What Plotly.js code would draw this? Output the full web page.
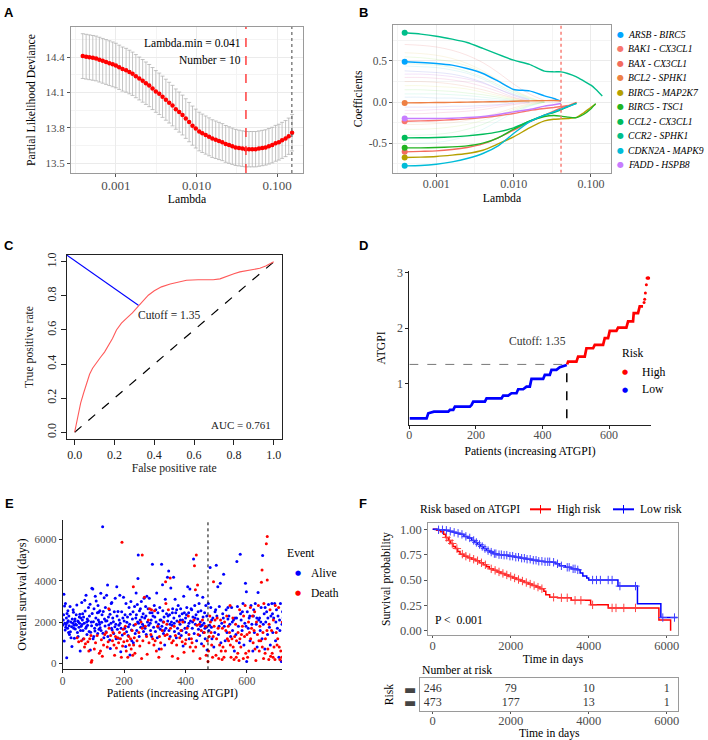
<!DOCTYPE html>
<html><head><meta charset="utf-8">
<script src="https://cdn.plot.ly/plotly-3.0.1.min.js"></script>
<style>body{margin:0;padding:0;background:#fff}#chart{width:708px;height:740px}</style>
</head><body><div id="chart"></div>
<script>
const W=708,H=740;
const SERIF='Liberation Serif, Times New Roman, serif';
// ---------- Panel A : cross-validation ----------
const lambdaA=[0.000389,0.000428,0.000470,0.000518,0.000569,0.000625,0.000687,0.000756,0.000831,0.000914,0.00100,0.00110,0.00121,0.00134,0.00147,0.00161,0.00177,0.00195,0.00215,0.00236,0.00259,0.00285,0.00313,0.00345,0.00379,0.00417,0.00458,0.00504,0.00554,0.00610,0.00670,0.00736,0.00810,0.00891,0.00979,0.0108,0.0118,0.0130,0.0143,0.0157,0.0173,0.0190,0.0209,0.0230,0.0253,0.0278,0.0305,0.0336,0.0370,0.0406,0.0447,0.0491,0.0540,0.0594,0.0653,0.0718,0.0789,0.0868,0.0955,0.105,0.115,0.127,0.139,0.153];
const devianceA=[14.41,14.405,14.40,14.395,14.39,14.38,14.37,14.36,14.35,14.34,14.33,14.315,14.30,14.29,14.275,14.26,14.24,14.22,14.20,14.18,14.16,14.135,14.11,14.09,14.065,14.04,14.015,13.99,13.96,13.935,13.91,13.88,13.85,13.82,13.795,13.77,13.755,13.74,13.725,13.71,13.70,13.69,13.68,13.665,13.655,13.645,13.635,13.63,13.625,13.62,13.62,13.62,13.62,13.625,13.63,13.635,13.645,13.655,13.67,13.68,13.695,13.71,13.73,13.76];
const devianceSE=[0.19,0.19,0.19,0.19,0.19,0.19,0.19,0.19,0.19,0.19,0.189,0.188,0.187,0.186,0.185,0.184,0.183,0.182,0.181,0.18,0.179,0.178,0.177,0.176,0.175,0.174,0.173,0.172,0.171,0.17,0.169,0.168,0.167,0.166,0.165,0.164,0.163,0.162,0.161,0.16,0.159,0.158,0.157,0.156,0.155,0.154,0.153,0.152,0.151,0.15,0.15,0.15,0.15,0.15,0.15,0.15,0.151,0.151,0.152,0.152,0.153,0.153,0.154,0.155];
const lambdaMin=0.041, lambda1se=0.152, nSelected=10;
// ---------- Panel B : coefficient paths ----------
const lambdaB=[0.00039,0.00063,0.001,0.0016,0.0025,0.004,0.0063,0.01,0.016,0.025,0.033,0.041,0.05,0.065,0.08,0.1,0.115,0.14];
const pairNames=['ARSB - BIRC5','BAK1 - CX3CL1','BAX - CX3CL1','BCL2 - SPHK1','BIRC5 - MAP2K7','BIRC5 - TSC1','CCL2 - CX3CL1','CCR2 - SPHK1','CDKN2A - MAPK9','FADD - HSPB8'];
const pairColors=['#00A5FF','#F8766D','#F36B5E','#EE8044','#B5A000','#22B422','#00BC5A','#00BE8A','#00BCD8','#C77CFF'];
const coefARSB=[0.490,0.482,0.470,0.449,0.409,0.348,0.255,0.154,0.137,0.076,0.044,0.012];
const coefBAK1=[-0.232,-0.228,-0.223,-0.214,-0.203,-0.187,-0.166,-0.138,-0.101,-0.077,-0.065,-0.053,-0.040];
const coefBAX=[-0.604,-0.598,-0.592,-0.576,-0.551,-0.507,-0.434,-0.341,-0.240,-0.158,-0.110,-0.069,-0.045,-0.004];
const coefBCL2=[-0.009,-0.007,-0.005,-0.003,0.0,0.003,0.006,0.011,0.015,0.018,0.02,0.015];
const coefMAP2K7=[-0.672,-0.668,-0.660,-0.644,-0.624,-0.584,-0.507,-0.422,-0.313,-0.228,-0.207,-0.203,-0.199,-0.186,-0.132,-0.062,-0.025];
const coefTSC1=[-0.555,-0.555,-0.551,-0.543,-0.531,-0.498,-0.433,-0.328,-0.232,-0.174,-0.162,-0.170,-0.182,-0.188,-0.150,-0.080,-0.018];
const coefCCL2=[-0.434,-0.433,-0.430,-0.422,-0.410,-0.390,-0.361,-0.313,-0.232,-0.158,-0.126,-0.093,-0.057,-0.012];
const coefCCR2=[0.842,0.826,0.801,0.765,0.724,0.652,0.579,0.510,0.458,0.376,0.368,0.368,0.348,0.307,0.259,0.206,0.157,0.076];
const coefCDKN2A=[-0.774,-0.770,-0.754,-0.725,-0.685,-0.624,-0.531,-0.381,-0.240,-0.158,-0.118,-0.085,-0.053,-0.017];
const coefFADD=[-0.199,-0.199,-0.199,-0.195,-0.187,-0.175,-0.150,-0.118,-0.089,-0.049,-0.032,-0.017];
const otherPaths=[
[0.70,0.69,0.67,0.63,0.57,0.48,0.36,0.22,0.10,0.02],
[0.60,0.59,0.57,0.53,0.47,0.38,0.27,0.15,0.06,0.0],
[0.55,0.54,0.52,0.49,0.44,0.36,0.26,0.14,0.05,0.0],
[0.47,0.46,0.45,0.42,0.37,0.30,0.21,0.12,0.04,0.0],
[0.44,0.43,0.42,0.39,0.35,0.28,0.19,0.10,0.03],
[0.38,0.37,0.36,0.34,0.30,0.24,0.16,0.08,0.02],
[0.34,0.34,0.33,0.31,0.28,0.23,0.16,0.09,0.03],
[0.30,0.30,0.29,0.27,0.24,0.19,0.13,0.06,0.01],
[0.25,0.25,0.24,0.22,0.19,0.15,0.10,0.05,0.01],
[0.20,0.20,0.19,0.18,0.16,0.12,0.08,0.04,0.01],
[0.15,0.15,0.14,0.13,0.11,0.09,0.06,0.03,0.0],
[0.10,0.10,0.10,0.09,0.08,0.06,0.04,0.02,0.0],
[0.06,0.06,0.05,0.05,0.04,0.03,0.02,0.01],
[-0.06,-0.06,-0.06,-0.05,-0.05,-0.04,-0.03,-0.01],
[-0.10,-0.10,-0.09,-0.09,-0.08,-0.06,-0.04,-0.02,0.0],
[-0.14,-0.14,-0.13,-0.12,-0.11,-0.09,-0.06,-0.03,-0.01],
[-0.27,-0.27,-0.26,-0.25,-0.22,-0.18,-0.13,-0.07,-0.02,0.0],
[-0.33,-0.33,-0.32,-0.30,-0.27,-0.22,-0.16,-0.09,-0.03,0.0],
[-0.40,-0.40,-0.39,-0.37,-0.33,-0.27,-0.19,-0.11,-0.04,0.0],
[-0.50,-0.50,-0.49,-0.46,-0.41,-0.33,-0.23,-0.13,-0.05,0.0]];
// ---------- Panel C : ROC ----------
const rocFPR=[0,0.008,0.018,0.03,0.045,0.06,0.075,0.09,0.11,0.13,0.15,0.17,0.19,0.21,0.235,0.26,0.29,0.32,0.345,0.37,0.40,0.436,0.48,0.52,0.562,0.62,0.696,0.73,0.763,0.80,0.83,0.88,0.93,0.96,1.0];
const rocTPR=[0,0.05,0.11,0.17,0.23,0.29,0.34,0.375,0.41,0.44,0.47,0.51,0.55,0.60,0.64,0.668,0.70,0.74,0.77,0.804,0.83,0.853,0.87,0.88,0.892,0.895,0.895,0.90,0.912,0.93,0.941,0.953,0.962,0.975,1.0];
const cutoffFPR=0.32, cutoffTPR=0.745, cutoffValue=1.35, aucValue=0.761;
// ---------- Panel D : risk score ----------
const lowIdx=[1,52,57,74,117,122,132,137,182,187,192,227,232,277,282,297,307,322,327,342,352,362,367,402,407,422,427,442,452,473];
const lowScore=[0.384,0.384,0.474,0.504,0.504,0.534,0.534,0.594,0.594,0.624,0.684,0.684,0.743,0.743,0.791,0.791,0.833,0.833,0.905,0.905,0.952,0.952,1.09,1.09,1.162,1.162,1.252,1.252,1.30,1.341];
const highIdx=[474,477,502,507,527,532,552,557,582,587,597,602,622,627,652,657,672,674,687,692,702];
const highScore=[1.35,1.401,1.401,1.491,1.491,1.64,1.64,1.70,1.70,1.82,1.82,1.95,1.95,2.01,2.01,2.12,2.12,2.27,2.27,2.39,2.39];
const topIdx=[705,707,709,712,714,716,718,719];
const topScore=[2.46,2.52,2.63,2.78,2.9,2.9,2.9,2.9];
const nLow=473;
// ---------- Panel E : survival status ----------
const alivePoints=[[1,1860],[2,2100],[3,2350],[4,3340],[5,1090],[6,2780],[7,1950],[8,1620],[9,2900],[10,1750],[11,1890],[12,2200],[13,280],[14,2420],[15,1980],[16,1700],[17,2550],[18,2060],[19,1500],
[20,2300],[21,1820],[22,1400],[24,2750],[25,1540],[26,2000],[27,1250],[29,1780],[30,820],[31,2150],[33,1950],[34,2600],[35,2470],[36,1700],[37,1850],[38,1220],[39,2040],
[40,2150],[41,1670],[42,1900],[44,2350],[45,1860],[46,2830],[48,1500],[49,2050],[50,1300],[51,2020],[53,1750],[54,2250],[55,1950],[56,2380],[57,610],[58,1600],[59,2200],
[60,1800],[62,2950],[63,1890],[64,2100],[65,2400],[66,1600],[67,1180],[68,2250],[70,1950],[72,3050],[73,2540],[75,1700],[76,3300],[77,1780],[78,2000],[79,1400],
[80,2150],[81,1850],[83,2060],[84,2700],[86,1550],[87,2300],[89,2860],[90,650],[91,1510],[93,2000],[94,1830],[95,3630],[96,2420],[98,3600],[99,1200],
[100,2020],[101,1300],[102,2650],[104,1700],[105,1570],[106,3250],[108,2200],[109,3020],[110,1900],[111,1860],[113,2450],[114,1450],[115,2800],[116,2100],[117,2470],[118,1650],[119,2000],
[120,1900],[121,2550],[122,1730],[124,3390],[125,1600],[127,1990],[128,2350],[130,6600],[131,1460],[132,2510],[134,1250],[135,3180],[136,2150],[138,1810],[139,2700],
[140,2050],[141,1540],[143,3300],[144,2060],[146,3790],[147,1300],[149,2250],[150,1860],[152,2600],[153,1140],[154,2380],[155,730],[157,1950],[158,2900],[159,1700],
[160,2950],[161,1620],[163,2200],[165,2020],[166,1450],[168,2500],[170,1780],[171,3150],[173,1900],[174,1200],[176,3710],[177,2300],[178,1650],
[180,2510],[181,1220],[183,1850],[184,2100],[186,3300],[187,1940],[189,570],[190,1700],[192,2500],[194,1380],[196,2200],[198,3200],
[200,2050],[202,1700],[203,2350],[205,820],[206,2900],[208,1540],[209,1990],[211,2250],[213,1350],[214,1780],[216,2700],[218,1900],[219,410],
[220,2380],[222,3000],[224,1620],[225,1100],[227,2150],[229,2500],[230,1000],[232,1850],[234,2750],[236,1450],[238,2200],[239,3400],
[240,2350],[241,1600],[243,2850],[244,2000],[245,4110],[246,5240],[247,1950],[249,1300],[250,2550],[252,2100],[253,2650],[254,1750],[256,3000],[258,2250],
[260,1900],[262,2400],[263,1550],[264,1800],[265,3150],[267,2200],[268,1700],[270,2750],[271,2300],[272,1400],[274,3250],[276,2000],[278,2650],
[280,1850],[282,3150],[284,2450],[285,1950],[286,1600],[288,2100],[290,1300],[291,2450],[292,4790],[294,2300],[296,1750],[298,2800],
[300,2250],[302,1550],[303,2600],[304,2000],[306,3400],[308,1250],[310,2450],[311,1750],[312,1900],[314,700],[316,2700],[317,2100],[318,1650],
[320,2100],[322,4790],[323,1800],[325,3800],[326,2550],[327,2000],[328,1450],[330,2250],[331,1600],[332,900],[334,3100],[336,1700],[338,2400],
[341,4160],[342,2050],[343,2300],[345,4470],[346,1600],[348,2350],[349,1900],[350,1300],[352,3650],[354,2000],[356,1850],[357,2450],[358,2650],
[361,4160],[362,2200],[363,1950],[364,1550],[366,3100],[368,2450],[370,1250],[371,2600],[372,2050],[374,1700],[376,2800],[378,1450],
[380,2300],[382,1900],[383,2100],[384,2650],[386,1350],[388,1600],[389,2400],[390,2100],[392,850],[394,3250],[396,2450],[397,2000],[398,1700],
[400,2200],[402,1500],[403,2350],[404,2700],[407,3710],[408,1800],[410,2450],[411,1950],[412,1200],[414,3600],[416,2050],[418,2650],
[420,2600],[422,1700],[423,2000],[424,2250],[426,5050],[428,1450],[430,2800],[431,2200],[432,1900],[434,2350],[436,1100],[438,3300],
[440,2150],[441,2500],[442,1650],[444,2900],[446,1350],[448,2000],[449,1800],[450,2550],[452,950],[454,1850],[456,3200],[457,2250],[458,1500],
[460,1950],[462,2450],[463,1700],[464,1200],[466,2800],[468,1750],[469,2300],[470,650],[474,2900],[476,1600],[478,1850],
[480,4630],[482,2700],[484,1750],[485,2100],[486,1200],[489,2200],[492,800],[495,1500],[496,2500],[498,2600],
[500,4740],[502,2300],[505,3710],[507,1400],[509,1800],[510,2750],[513,3870],[515,1000],[518,1950],
[521,2400],[523,2200],[524,4310],[526,1800],[529,1100],[532,2600],[535,1500],[538,2150],[538,2700],
[541,2300],[544,1900],[547,1300],[550,2700],[552,2000],[553,1600],[556,2100],[559,600],
[561,2200],[564,1400],[566,2200],[567,4920],[569,2750],[572,1800],[575,1000],[578,5270],[579,2400],
[581,2100],[584,1600],[585,2500],[587,2900],[590,900],[593,1950],[595,3870],[597,1800],[598,3460],[599,100],
[601,2500],[604,1700],[607,2200],[609,2300],[610,1100],[613,2800],[616,1900],[619,600],
[621,2300],[622,2600],[624,1500],[627,2900],[630,1900],[632,2200],[633,800],[636,3430],[638,2100],
[641,2200],[643,1600],[645,2000],[646,2700],[649,1200],[651,5210],[653,1900],[656,2400],[658,700],[659,2700],
[661,2000],[664,2500],[667,1400],[668,2200],[670,2850],[673,1750],[676,900],[678,2300],
[681,2900],[683,2400],[684,1500],[687,2200],[690,2900],[693,1100],[694,2000],[696,2600],[699,1700],
[701,2300],[704,300],[706,2100],[707,1600],[709,2900],[712,100],[714,1900],[716,2500],[718,2200]];
const deathPoints=[[47,1250],[52,1050],[61,1100],[69,1200],[71,800],[74,950],[82,1050],[85,600],[88,1200],[92,1350],[93,60],[95,150],
[103,700],[107,1000],[112,1350],[119,500],[123,600],[126,1150],[129,350],[133,900],[137,1400],
[142,1500],[145,800],[148,1050],[150,2650],[151,1700],[156,1350],[162,1100],[164,1500],[167,900],[169,400],[172,1300],[175,750],[179,1250],
[182,1000],[185,1500],[188,1200],[191,300],[193,5850],[195,850],[197,1650],[199,1050],
[201,1450],[204,1800],[207,600],[210,1100],[212,300],[215,1300],[217,900],
[221,1200],[223,700],[226,1600],[228,400],[230,3710],[231,900],[233,1250],[235,500],[237,1900],
[242,1100],[248,1500],[251,850],[255,2000],[257,250],[259,5240],[259,1700],
[261,1100],[266,3200],[269,1800],[273,1300],[275,450],[279,2100],
[281,1000],[283,2650],[287,1400],[289,2600],[293,1200],[297,900],[299,2550],
[301,1100],[305,600],[309,1800],[313,300],[315,1300],[319,1000],
[321,700],[324,1600],[329,2000],[333,1350],[335,3950],[336,2900],[339,1900],
[340,1400],[344,2600],[347,1200],[350,4130],[351,1700],[355,1000],[357,350],
[360,1100],[363,1800],[367,1350],[371,900],[375,250],[379,2000],
[381,1250],[385,1600],[389,1050],[391,2000],[395,550],[399,950],
[401,1150],[405,1700],[409,2300],[411,1400],[415,800],[419,1200],
[421,1000],[425,600],[427,2100],[429,4720],[432,3560],[433,800],[435,5240],[437,1850],[439,3790],
[441,1400],[445,1900],[447,250],[451,1600],[455,2100],[459,850],
[461,1500],[465,1800],[467,400],[471,1100],[473,100],
[475,600],[477,1300],[479,2300],
[481,2000],[483,1500],[485,900],[488,300],[490,1300],[491,3950],[493,1800],[496,2100],[499,400],
[501,1200],[503,2200],[506,1700],[508,250],[511,900],[514,2100],[516,600],[519,200],
[520,1700],[522,800],[525,300],[527,2000],[530,600],[531,1600],[534,2300],[536,1200],[539,1800],
[540,1100],[543,1500],[545,2800],[546,900],[548,300],[551,1200],[554,2200],[555,800],[558,200],
[560,1300],[563,1900],[565,300],[566,1100],[570,500],[571,1500],[574,150],[576,2600],[577,1200],
[580,800],[582,1400],[585,1800],[588,250],[589,2300],[592,1300],[594,2800],[596,500],
[600,1400],[602,300],[605,2000],[606,600],[608,1500],[611,2700],[612,1200],[615,1700],[618,2300],
[620,1000],[623,1600],[625,2500],[626,700],[629,150],[631,2000],[634,1400],[637,2800],[639,1100],
[640,600],[642,1800],[645,1100],[647,3920],[649,4520],[650,800],[652,1500],[654,250],[655,2900],[659,500],
[660,1200],[663,5780],[665,1600],[666,6130],[666,4030],[668,700],[671,200],[672,1900],[675,2600],[677,350],
[680,1600],[682,500],[685,300],[686,2100],[688,800],[691,200],[692,2800],[695,1500],[698,900],
[700,1200],[703,2700],[705,800],[707,200],[710,600],[713,300],[715,2000],[717,150],[719,600]];
// ---------- Panel F : Kaplan-Meier ----------
const kmLowT=[0,150,300,420,520,600,700,800,900,1000,1080,1150,1230,1300,1380,1460,1550,1650,1800,1950,2100,2250,2400,2550,2700,2850,3050,3150,3250,3400,3550,3700,3780,3850,3950,4000,4750,5250,5850,6282];
const kmLowS=[1,0.995,0.99,0.98,0.97,0.96,0.95,0.93,0.915,0.89,0.87,0.85,0.83,0.81,0.79,0.775,0.76,0.75,0.745,0.735,0.725,0.715,0.705,0.695,0.685,0.68,0.675,0.66,0.64,0.625,0.61,0.60,0.57,0.54,0.52,0.50,0.44,0.265,0.13,0.13];
const kmHighT=[0,100,200,280,330,400,460,520,580,640,700,800,900,1000,1100,1200,1300,1380,1450,1550,1650,1750,1850,1950,2050,2150,2250,2350,2450,2550,2650,2750,2850,2900,3000,3200,3550,4050,4500,5800,6100];
const kmHighS=[1,0.99,0.975,0.95,0.92,0.89,0.86,0.83,0.81,0.78,0.755,0.735,0.72,0.705,0.69,0.67,0.65,0.63,0.61,0.595,0.58,0.565,0.55,0.535,0.52,0.505,0.49,0.475,0.46,0.445,0.43,0.415,0.39,0.355,0.33,0.325,0.30,0.255,0.225,0.105,0.0];
const censorLow=[150,250,350,450,550,650,750,850,950,1050,1120,1200,1270,1340,1420,1500,1580,1620,1700,1760,1830,1900,1980,2050,2130,2200,2280,2350,2420,2500,2580,2650,2720,2800,2880,2950,3000,3100,3200,3300,3450,3500,3600,3650,3720,4100,4200,4300,4500,4600,4800,5200,5900,6200];
const censorHigh=[350,430,500,620,760,850,950,1050,1150,1250,1350,1500,1600,1700,1800,1900,2000,2100,2200,2300,2400,2500,2600,2700,2800,3100,3300,3450,3650,3800,4100,4600,4700,4900,5200];
const riskTimes=[0,2000,4000,6000];
const atRiskHigh=[246,79,10,1];
const atRiskLow=[473,177,13,1];

// ---------- helpers ----------
function dx(a,b){return [a/W,b/W];}
function dy(a,b){return [1-b/H,1-a/H];}
function tf(s,c){return {family:SERIF,size:s,color:c||'#4D4D4D'};}
const titleF={family:SERIF,size:11.7,color:'#000'};
function axis(o){return Object.assign({showgrid:false,zeroline:false,showline:true,linewidth:1,ticks:'outside',ticklen:3,tickwidth:1,tickfont:tf(11.5),fixedrange:true},o);}
function stepAt(T,S,t){let s=S[0];for(let i=0;i<T.length;i++){if(T[i]<=t)s=S[i];}return s;}

const data=[];
// A
const yA=[13.418,14.657];
data.push({x:lambdaA,y:devianceA,xaxis:'x',yaxis:'y',mode:'markers',type:'scatter',
 marker:{color:'#FF0000',size:4.5},
 error_y:{type:'data',array:devianceSE,color:'#ABABAB',thickness:0.7,width:2}});
data.push({x:[lambdaMin,lambdaMin],y:yA,xaxis:'x',yaxis:'y',mode:'lines',line:{color:'#FF3030',width:1.4,dash:'dash'}});
data.push({x:[lambda1se,lambda1se],y:yA,xaxis:'x',yaxis:'y',mode:'lines',line:{color:'#555',width:1.1,dash:'dot'}});
// B
otherPaths.forEach((p,i)=>{
 const h=(i*47)%360;
 data.push({x:lambdaB.slice(0,p.length),y:p,xaxis:'x2',yaxis:'y2',mode:'lines',opacity:0.2,
  line:{color:`hsl(${h},70%,65%)`,width:0.9,shape:'spline'}});
});
const coefs=[coefARSB,coefBAK1,coefBAX,coefBCL2,coefMAP2K7,coefTSC1,coefCCL2,coefCCR2,coefCDKN2A,coefFADD];
coefs.forEach((c,i)=>{
 data.push({x:lambdaB.slice(0,c.length),y:c,xaxis:'x2',yaxis:'y2',mode:'lines',line:{color:pairColors[i],width:1.4,shape:'spline',smoothing:0.6}});
 data.push({x:[lambdaB[0]],y:[c[0]],xaxis:'x2',yaxis:'y2',mode:'markers',marker:{color:pairColors[i],size:6}});
});
const yB=[-0.857,0.937];
data.push({x:[lambdaMin,lambdaMin],y:yB,xaxis:'x2',yaxis:'y2',mode:'lines',line:{color:'#F8766D',width:1.4,dash:'dot'}});
// C
const xC=[-0.04,1.04], yC=[-0.04,1.04];
data.push({x:[0,1],y:[0,1],xaxis:'x3',yaxis:'y3',mode:'lines',line:{color:'#000',width:1.2,dash:'dash'}});
data.push({x:rocFPR,y:rocTPR,xaxis:'x3',yaxis:'y3',mode:'lines',line:{color:'#FF5A5A',width:1.1}});
data.push({x:[xC[0],cutoffFPR],y:[yC[1],cutoffTPR],xaxis:'x3',yaxis:'y3',mode:'lines',line:{color:'#0000FF',width:1.1}});
// D
data.push({x:[0,nLow],y:[cutoffValue,cutoffValue],xaxis:'x4',yaxis:'y4',mode:'lines',line:{color:'#777',width:1,dash:'dash'}});
data.push({x:[nLow,nLow],y:[lowScore[0],cutoffValue],xaxis:'x4',yaxis:'y4',mode:'lines',line:{color:'#000',width:1.5,dash:'dash'}});
data.push({x:lowIdx,y:lowScore,xaxis:'x4',yaxis:'y4',mode:'lines',line:{color:'#0000FF',width:2.7}});
data.push({x:highIdx,y:highScore,xaxis:'x4',yaxis:'y4',mode:'lines',line:{color:'#FF0000',width:2.7}});
data.push({x:topIdx,y:topScore,xaxis:'x4',yaxis:'y4',mode:'markers',marker:{color:'#FF0000',size:3}});
// E
const yE=[-277,6927];
data.push({x:alivePoints.map(p=>p[0]),y:alivePoints.map(p=>p[1]),xaxis:'x5',yaxis:'y5',mode:'markers',marker:{color:'#0000FF',size:3}});
data.push({x:deathPoints.map(p=>p[0]),y:deathPoints.map(p=>p[1]),xaxis:'x5',yaxis:'y5',mode:'markers',marker:{color:'#FF0000',size:3}});
data.push({x:[nLow,nLow],y:yE,xaxis:'x5',yaxis:'y5',mode:'lines',line:{color:'#000',width:1,dash:'3px,3px'}});
// F
data.push({x:kmHighT,y:kmHighS,xaxis:'x6',yaxis:'y6',mode:'lines',line:{color:'#FF0000',width:1.5,shape:'hv'}});
data.push({x:kmLowT,y:kmLowS,xaxis:'x6',yaxis:'y6',mode:'lines',line:{color:'#0000FF',width:1.5,shape:'hv'}});
data.push({x:censorHigh,y:censorHigh.map(t=>stepAt(kmHighT,kmHighS,t)),xaxis:'x6',yaxis:'y6',mode:'markers',
 marker:{symbol:'cross-thin',size:6,line:{width:1,color:'#FF4040'}}});
data.push({x:censorLow,y:censorLow.map(t=>stepAt(kmLowT,kmLowS,t)),xaxis:'x6',yaxis:'y6',mode:'markers',
 marker:{symbol:'cross-thin',size:6,line:{width:1,color:'#4040FF'}}});
data.push({x:riskTimes.concat(riskTimes),y:[2,2,2,2,1,1,1,1],text:atRiskHigh.concat(atRiskLow).map(String),
 xaxis:'x7',yaxis:'y7',mode:'text',textfont:{family:SERIF,size:12,color:'#333'}});

const grid='#EBEBEB', minorGrid='#F4F4F4', border='#9A9A9A';
const layout={width:W,height:H,margin:{l:0,r:0,t:0,b:0},paper_bgcolor:'#fff',plot_bgcolor:'#fff',showlegend:false,
 font:{family:SERIF,size:11,color:'#000'},
 xaxis:axis({domain:dx(71,303),anchor:'y',type:'log',range:[-3.556,-0.68],tickvals:[0.001,0.01,0.1],ticktext:['0.001','0.010','0.100'],
  tickfont:tf(13),ticklabelstandoff:-3,mirror:true,linecolor:border,tickcolor:'#555',showgrid:true,gridcolor:grid,
  minor:{tickvals:[0.000316,0.00316,0.0316],showgrid:true,gridcolor:minorGrid,ticks:''},
  title:{text:'Lambda',font:titleF,standoff:3}}),
 yaxis:axis({domain:dy(27,173),anchor:'x',range:yA,tickvals:[13.5,13.8,14.1,14.4],ticktext:['13.5','13.8','14.1','14.4'],
  tickfont:tf(11),mirror:true,linecolor:border,tickcolor:'#555',showgrid:true,gridcolor:grid,
  minor:{tickvals:[13.65,13.95,14.25,14.55],showgrid:true,gridcolor:minorGrid,ticks:''},
  title:{text:'Partial Likelihood Deviance',font:titleF,standoff:7}}),
 xaxis2:axis({domain:dx(393.3,610.7),anchor:'y2',type:'log',range:[-3.556,-0.745],tickvals:[0.001,0.01,0.1],ticktext:['0.001','0.010','0.100'],
  tickfont:tf(12),ticklabelstandoff:-3,mirror:true,linecolor:border,tickcolor:'#555',showgrid:true,gridcolor:grid,
  minor:{tickvals:[0.000316,0.00316,0.0316],showgrid:true,gridcolor:minorGrid,ticks:''},
  title:{text:'Lambda',font:titleF,standoff:3}}),
 yaxis2:axis({domain:dy(25,172.7),anchor:'x2',range:yB,tickvals:[-0.5,0,0.5],ticktext:['-0.5','0.0','0.5'],
  tickfont:tf(11.5),mirror:true,linecolor:border,tickcolor:'#555',showgrid:true,gridcolor:grid,
  minor:{tickvals:[-0.75,-0.25,0.25,0.75],showgrid:true,gridcolor:minorGrid,ticks:''},
  title:{text:'Coefficients',font:titleF,standoff:3}}),
 xaxis3:axis({domain:dx(66.7,281.7),anchor:'y3',range:xC,tickvals:[0,0.2,0.4,0.6,0.8,1],ticktext:['0.0','0.2','0.4','0.6','0.8','1.0'],
  mirror:true,linecolor:'#222',tickcolor:'#222',ticklen:5,tickfont:tf(12,'#222'),
  title:{text:'False positive rate',font:{family:SERIF,size:11.7,color:'#222'},standoff:2}}),
 yaxis3:axis({domain:dy(255,439),anchor:'x3',range:yC,tickvals:[0,0.2,0.4,0.6,0.8,1],ticktext:['0.0','0.2','0.4','0.6','0.8','1.0'],tickangle:-90,
  mirror:true,linecolor:'#222',tickcolor:'#222',ticklen:5,tickfont:tf(12,'#222'),
  title:{text:'True positive rate',font:{family:SERIF,size:11.7,color:'#222'},standoff:8}}),
 xaxis4:axis({domain:dx(409.3,650.7),anchor:'y4',range:[0,725],tickvals:[0,200,400,600],linecolor:'#222',tickcolor:'#222',tickfont:tf(12),
  ticklabelstandoff:-4,title:{text:'Patients (increasing ATGPI)',font:titleF,standoff:5}}),
 yaxis4:axis({domain:dy(270.7,425),anchor:'x4',range:[0.264,3.03],tickvals:[1,2,3],linecolor:'#222',tickcolor:'#222',tickfont:tf(12),
  title:{text:'ATGPI',font:titleF,standoff:8}}),
 xaxis5:axis({domain:dx(62.7,282),anchor:'y5',range:[0,714],tickvals:[0,200,400,600],linecolor:'#222',tickcolor:'#222',tickfont:tf(11.5),
  ticklabelstandoff:-2,title:{text:'Patients (increasing ATGPI)',font:titleF,standoff:2}}),
 yaxis5:axis({domain:dy(520,669.3),anchor:'x5',range:yE,tickvals:[0,2000,4000,6000],linecolor:'#222',tickcolor:'#222',tickfont:tf(11),
  title:{text:'Overall survival (days)',font:{family:SERIF,size:12.2,color:'#000'},standoff:5}}),
 xaxis6:axis({domain:dx(428.3,677.7),anchor:'y6',range:[-113,6282],tickvals:[0,2000,4000,6000],mirror:true,linecolor:border,tickcolor:'#555',
  ticklen:2,ticklabelstandoff:-3,tickfont:tf(12.5),title:{text:'Time in days',font:titleF,standoff:0}}),
 yaxis6:axis({domain:dy(523.3,635),anchor:'x6',range:[-0.042,1.059],tickvals:[0,0.25,0.5,0.75,1],ticktext:['0.00','0.25','0.50','0.75','1.00'],
  tickfont:tf(12.5),mirror:true,linecolor:border,tickcolor:'#555',title:{text:'Survival probability',font:titleF,standoff:6}}),
 xaxis7:axis({domain:dx(420,677.7),anchor:'y7',range:[-326,6282],tickvals:[0,2000,4000,6000],mirror:true,linecolor:border,tickcolor:'#555',
  ticklen:2,ticklabelstandoff:-4,tickfont:tf(12.5)}),
 yaxis7:axis({domain:dy(678.3,710.7),anchor:'x7',range:[0.415,2.78],tickvals:[1,2],ticktext:['▬','▬'],ticks:'',mirror:true,linecolor:border,
  tickfont:{family:'DejaVu Sans',size:13,color:'#444'},title:{text:'Risk',font:titleF,standoff:8}}),
 annotations:[],shapes:[]};

const A=layout.annotations;
function pa(px,py,text,o){A.push(Object.assign({xref:'paper',yref:'paper',x:px/W,y:1-py/H,text:text,showarrow:false,xanchor:'left',yanchor:'middle',font:{family:SERIF,size:11.7,color:'#000'}},o||{}));}
// panel letters
[['A',9,12],['B',363,12],['C',9,246],['D',363,246],['E',9,503],['F',363,503]].forEach(l=>{
 pa(l[1],l[2],'<b>'+l[0]+'</b>',{xanchor:'center',font:{family:'Liberation Sans, Arial, sans-serif',size:13,color:'#000'}});
});
// A texts
A.push({xref:'x',yref:'y',x:Math.log10(lambdaMin),y:14.52,text:'Lambda.min = '+lambdaMin,showarrow:false,xanchor:'right',xshift:-3,font:{family:SERIF,size:11.5,color:'#000'}});
A.push({xref:'x',yref:'y',x:Math.log10(lambdaMin),y:14.38,text:'Number = '+nSelected,showarrow:false,xanchor:'right',xshift:-3,font:{family:SERIF,size:11.5,color:'#000'}});
// B legend
pairNames.forEach((n,i)=>{
 const py=34.5+i*14.45;
 pa(620,py,'●',{xanchor:'center',font:{family:'DejaVu Sans',size:8,color:pairColors[i]}});
 pa(626,py,'<i>'+n+'</i>',{font:{family:SERIF,size:9.6,color:'#000'}});
});
// C texts
A.push({xref:'x3',yref:'y3',x:0.31,y:0.685,text:'Cutoff = '+cutoffValue.toFixed(2),showarrow:false,xanchor:'left',font:{family:SERIF,size:11.5,color:'#222'}});
A.push({xref:'x3',yref:'y3',x:0.995,y:0.045,text:'AUC = '+aucValue,showarrow:false,xanchor:'right',font:{family:SERIF,size:11,color:'#222'}});
// D texts & legend
A.push({xref:'x4',yref:'y4',x:386,y:1.76,text:'Cutoff: '+cutoffValue.toFixed(2),showarrow:false,xanchor:'center',font:{family:SERIF,size:11.6,color:'#333'}});
pa(620,353.3,'Risk',{font:{family:SERIF,size:11.6,color:'#000'}});
pa(625,372.3,'●',{xanchor:'center',font:{family:'DejaVu Sans',size:7,color:'#FF0000'}});
pa(640,372.3,'High',{font:{family:SERIF,size:11.7,color:'#000'}});
pa(625,390,'●',{xanchor:'center',font:{family:'DejaVu Sans',size:7,color:'#0000FF'}});
pa(640,390,'Low',{font:{family:SERIF,size:11.7,color:'#000'}});
// E legend
pa(285,553.3,'Event',{font:{family:SERIF,size:11.7,color:'#000'}});
pa(297.7,573.3,'●',{xanchor:'center',font:{family:'DejaVu Sans',size:7,color:'#0000FF'}});
pa(309,573.3,'Alive',{font:{family:SERIF,size:11.5,color:'#000'}});
pa(297.7,592.7,'●',{xanchor:'center',font:{family:'DejaVu Sans',size:7,color:'#FF0000'}});
pa(309,592.7,'Death',{font:{family:SERIF,size:11.5,color:'#000'}});
// F legend & texts
pa(418,509.3,'Risk based on ATGPI',{font:{family:SERIF,size:11.6,color:'#000'}});
pa(555,509.3,'High risk',{font:{family:SERIF,size:11.6,color:'#000'}});
pa(638,509.3,'Low risk',{font:{family:SERIF,size:11.6,color:'#000'}});
const S=layout.shapes;
function pl(x0,y0,x1,y1,c,w){S.push({type:'line',xref:'paper',yref:'paper',x0:x0/W,x1:x1/W,y0:1-y0/H,y1:1-y1/H,line:{color:c,width:w}});}
pl(530,509.3,551,509.3,'#FF0000',2);pl(540.5,505,540.5,513.6,'#FF0000',1);
pl(613,509.3,634,509.3,'#0000FF',2);pl(623.5,505,623.5,513.6,'#0000FF',1);
A.push({xref:'x6',yref:'y6',x:0,y:0.105,text:'P <  0.001',showarrow:false,xanchor:'left',font:{family:SERIF,size:11.7,color:'#000'}});
pa(420,670,'Number at risk',{font:{family:SERIF,size:11.7,color:'#000'}});
pa(549,733,'Time in days',{xanchor:'center',font:titleF});

Plotly.newPlot('chart',data,layout,{staticPlot:true});
</script></body></html>
